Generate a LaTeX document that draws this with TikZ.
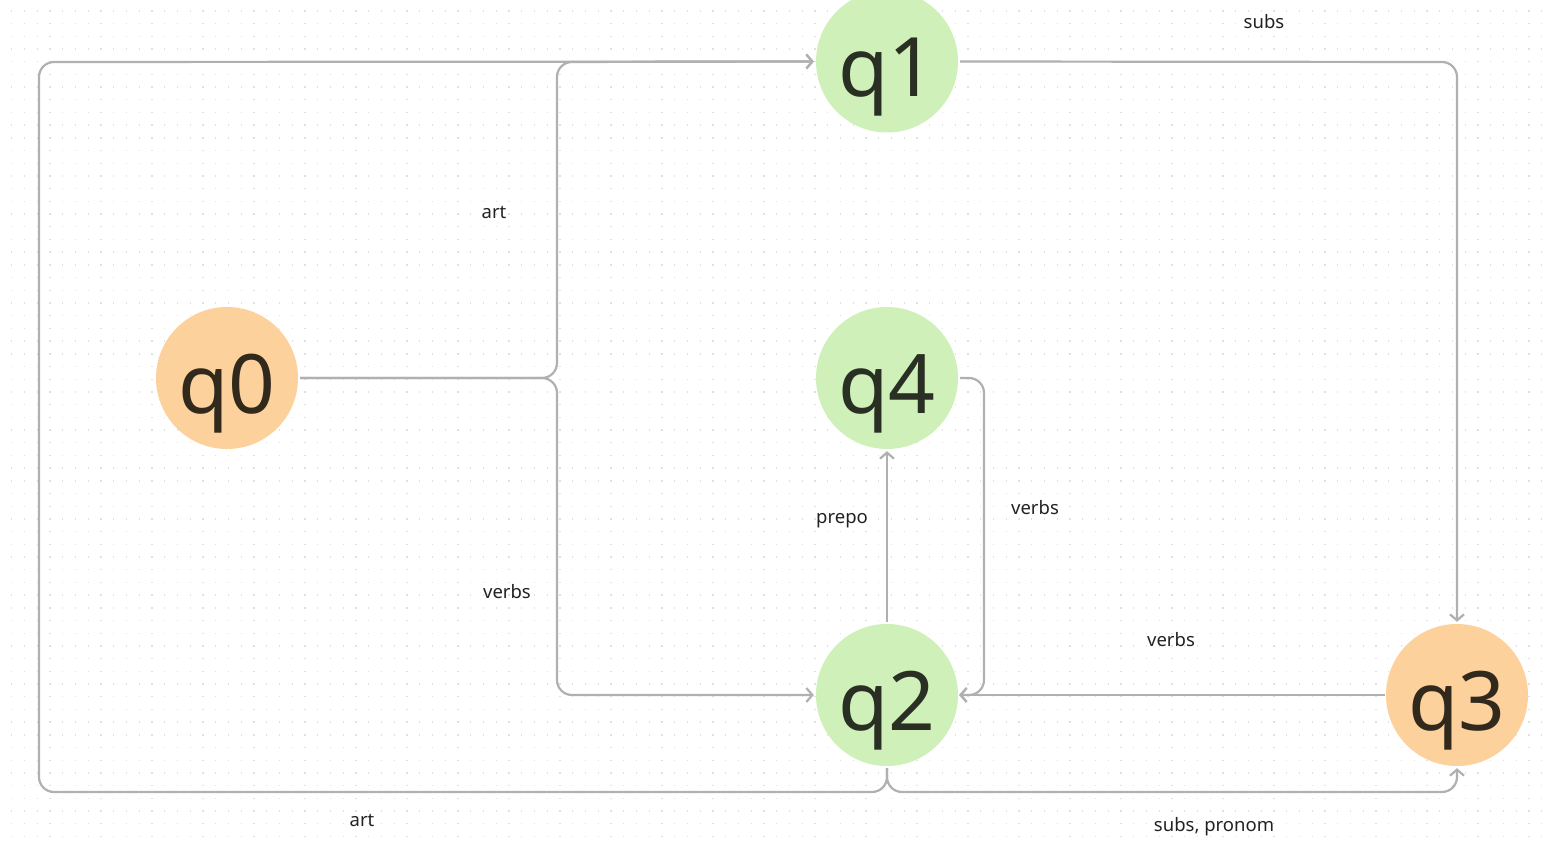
\documentclass[tikz,border=0pt]{standalone}
\usepackage{fontspec}
\setmainfont{Noto Sans}
\usetikzlibrary{arrows.meta,calc}
\definecolor{edgegray}{HTML}{B0B0B0}
\definecolor{greenfill}{HTML}{CFF1B9}
\definecolor{orangefill}{HTML}{FCD19C}
\definecolor{greentext}{HTML}{2A2F24}
\definecolor{orangetext}{HTML}{32291D}
\definecolor{labeltext}{HTML}{222222}
\definecolor{dotcol}{HTML}{E0E0E0}
\tikzset{
  statebase/.style={circle, minimum size=142pt, inner sep=0pt, draw=none},
  greenstate/.style={statebase, fill=greenfill},
  orangestate/.style={statebase, fill=orangefill},
  statetext/.style={anchor=base, inner sep=0pt, font=\fontsize{82}{82}\selectfont},
  edge/.style={draw=edgegray, line width=2.2pt, rounded corners=15pt, -{Straight Barb[length=6pt,width=14pt,line width=2.2pt]}},
  elabel/.style={font=\fontsize{18.5}{20}\selectfont, text=labeltext, inner sep=0pt},
  dotrow/.style={draw=dotcol, line width=1.4pt, dash pattern=on 1.4pt off 11.35pt}
}
\begin{document}
\begin{tikzpicture}[x=1pt,y=-1pt]
\useasboundingbox (0,0) rectangle (1548,845);
\fill[white] (0,0) rectangle (1548,845);
% dot grid
\foreach \j in {0,...,65}{
  \draw[dotrow] (11,{10.9+12.7*\j}) -- (1548,{10.9+12.7*\j});
}
% states
\node[orangestate] (q0) at (227,378) {};
\node[greenstate] (q1) at (887,61.5) {};
\node[greenstate] (q4) at (887,378) {};
\node[greenstate] (q2) at (887,695) {};
\node[orangestate] (q3) at (1457,695) {};
\node[statetext, text=orangetext] (t0) at ($(q0)+(0,35)$) {q0};
\node[statetext, text=greentext] (t1) at ($(q1)+(0,35)$) {q1};
\node[statetext, text=greentext] (t4) at ($(q4)+(0,35)$) {q4};
\node[statetext, text=greentext] (t2) at ($(q2)+(0,35)$) {q2};
\node[statetext, text=orangetext] (t3) at ($(q3)+(0,35)$) {q3};
% junction coordinates
\coordinate (j0) at (557,378);
\coordinate (q2b) at (887,768);
% edges
\draw[edge] ($(q0.east)+(2,0)$) -- (j0) -- (557,62) -- ($(q1.west)+(-2,0)$);
\draw[edge] ($(q0.east)+(2,0)$) -- (j0) -- (557,695) -- ($(q2.west)+(-2,0)$);
\draw[edge] ($(q1.east)+(2,0)$) -- (1457,62) -- ($(q3.north)+(0,-2)$);
\draw[edge] ($(q3.west)+(-1,0)$) -- ($(q2.east)+(1,0)$);
\draw[edge] ($(q2.north)+(0,-2)$) -- ($(q4.south)+(0,2)$);
\draw[edge] ($(q4.east)+(2,0)$) -- (984,378) -- (984,695) -- ($(q2.east)+(1,0)$);
\draw[edge] (q2b) -- (887,792) -- (39,792) -- (39,62) -- ($(q1.west)+(-2,0)$);
\draw[edge] (q2b) -- (887,792) -- (1457,792) -- ($(q3.south)+(0,2)$);
% labels
\node[elabel] (l1) at (494,212) {art};
\node[elabel] (l2) at (507,592) {verbs};
\node[elabel] (l3) at (1264,22) {subs};
\node[elabel] (l4) at (1171,640) {verbs};
\node[elabel] (l5) at (842,521) {prepo};
\node[elabel] (l6) at (1035,508) {verbs};
\node[elabel] (l7) at (362,820) {art};
\node[elabel] (l8) at (1214,827) {subs, pronom};
\end{tikzpicture}
\end{document}
